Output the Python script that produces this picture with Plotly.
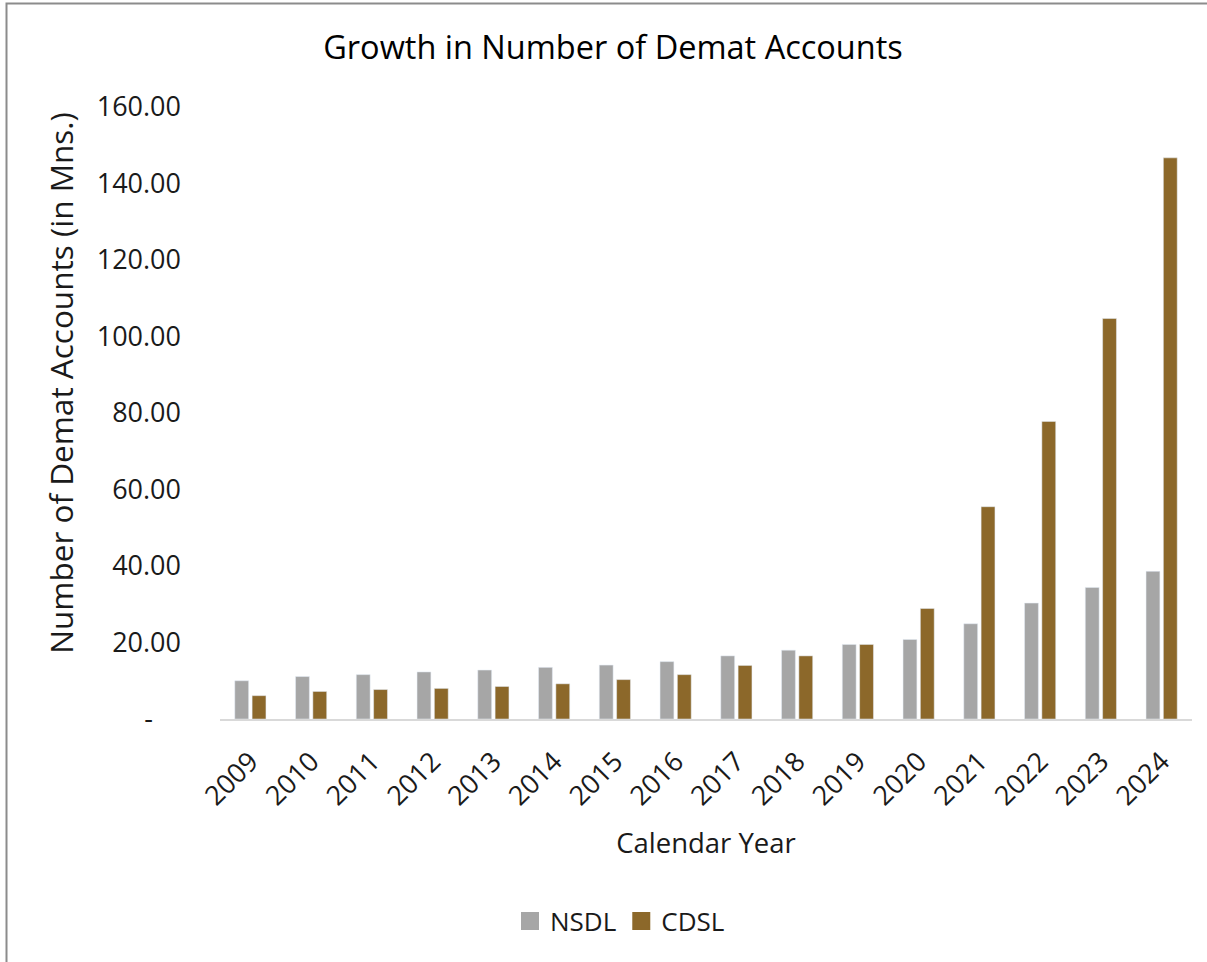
import plotly.graph_objects as go

years = ["2009", "2010", "2011", "2012", "2013", "2014", "2015", "2016",
         "2017", "2018", "2019", "2020", "2021", "2022", "2023", "2024"]
nsdl = [10.0, 11.1, 11.6, 12.3, 12.8, 13.5, 14.1, 15.0,
        16.5, 18.0, 19.5, 20.8, 24.9, 30.3, 34.4, 38.6]
cdsl = [6.1, 7.2, 7.7, 8.0, 8.5, 9.2, 10.3, 11.6,
        14.0, 16.5, 19.5, 28.9, 55.5, 77.8, 104.7, 146.7]
y_ticks = [0, 20, 40, 60, 80, 100, 120, 140, 160]
y_tick_text = ["-\u00a0\u00a0\u00a0\u00a0", "20.00", "40.00", "60.00", "80.00",
               "100.00", "120.00", "140.00", "160.00"]

FONT = "Open Sans"
TXT = "#1a1a1a"
C_NSDL = "#A6A6A6"
C_CDSL = "#8C682A"

fig = go.Figure()
fig.add_trace(go.Bar(name="NSDL", x=years, y=nsdl, marker_color=C_NSDL,
                     showlegend=False))
fig.add_trace(go.Bar(name="CDSL", x=years, y=cdsl, marker_color=C_CDSL,
                     showlegend=False))
# legend entries with larger square swatches
for name, col in [("NSDL", C_NSDL), ("CDSL", C_CDSL)]:
    fig.add_trace(go.Scatter(name=name, x=[None], y=[None], mode="markers",
                             marker=dict(symbol="square", size=16, color=col,
                                         line=dict(color=col, width=2))))

W, H = 1207, 962
L, R, T, B = 220, 15, 107, 242.5
pw, ph = W - L - R, H - T - B


def px2paper_x(px):
    return (px - L) / pw


def px2paper_y(py):
    return (H - B - py) / ph


fig.update_layout(
    width=W, height=H,
    margin=dict(l=L, r=R, t=T, b=B, autoexpand=False),
    paper_bgcolor="white", plot_bgcolor="white",
    barmode="group", bargap=0.43, bargroupgap=0.2,
    font=dict(family=FONT, color=TXT),
    title=dict(text="Growth in Number of Demat Accounts",
               x=613 / W, xanchor="center", xref="container",
               y=1 - 48 / H, yanchor="middle", yref="container",
               font=dict(size=32.5, family=FONT, color="#000000")),
    xaxis=dict(
        tickangle=-45, showgrid=False, ticks="", ticklabelstandoff=14,
        showline=True, linecolor="#d9d9d9", linewidth=2,
        tickfont=dict(size=27, family=FONT, color=TXT),
        title=dict(text="Calendar Year", standoff=22,
                   font=dict(size=27.5, family=FONT, color=TXT)),
    ),
    yaxis=dict(
        range=[0, 160], tickvals=y_ticks, ticktext=y_tick_text,
        showgrid=False, zeroline=False, showline=False, ticks="",
        ticklabelstandoff=38,
        tickfont=dict(size=27, family=FONT, color=TXT),
    ),
    legend=dict(orientation="h", x=620 / W, xref="container", xanchor="center",
                y=1 - 921 / H, yref="container", yanchor="middle",
                font=dict(size=26, family=FONT, color=TXT),
                traceorder="normal"),
    annotations=[dict(text="Number of Demat Accounts (in Mns.)",
                      xref="paper", yref="paper",
                      x=px2paper_x(61), y=px2paper_y(383),
                      xanchor="center", yanchor="middle", textangle=-90,
                      showarrow=False,
                      font=dict(size=31.5, family=FONT, color=TXT))],
    shapes=[dict(type="rect", xref="paper", yref="paper",
                 x0=px2paper_x(6.5), x1=px2paper_x(1220),
                 y0=px2paper_y(980), y1=px2paper_y(3.5),
                 line=dict(color="#8c8c8c", width=2), layer="above")],
)

fig.write_html("out.html")
